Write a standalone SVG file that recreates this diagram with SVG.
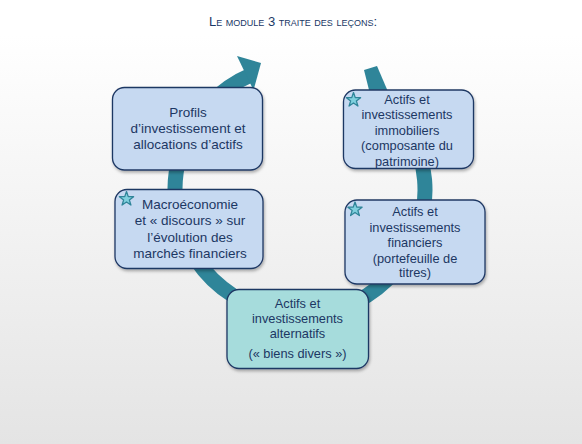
<svg xmlns="http://www.w3.org/2000/svg" width="582" height="444" viewBox="0 0 582 444">
<defs>
<linearGradient id="bg" x1="0" y1="0" x2="0" y2="1">
<stop offset="0.08" stop-color="#ffffff"/>
<stop offset="1" stop-color="#e4e4e4"/>
</linearGradient>
<filter id="sh" x="-10%" y="-10%" width="125%" height="130%">
<feDropShadow dx="1" dy="2" stdDeviation="1.5" flood-color="#000" flood-opacity="0.3"/>
</filter>
<path id="star" d="M0,-7.5 L1.75,-2.4 L7.1,-2.3 L2.85,0.93 L4.4,6.05 L0,3 L-4.4,6.05 L-2.85,0.93 L-7.1,-2.3 L-1.75,-2.4 Z"/>
</defs>
<style>
.box{fill:#c6d9f1;stroke:#1f3864;stroke-width:1.3;filter:url(#sh)}
.alt{fill:#a6dcdc}
.t{font-family:"Liberation Sans",Arial,sans-serif;fill:#1c3763;text-anchor:middle}
.l{font-size:13.5px}
.r{font-size:12.8px}
.st{fill:#7fd0de;stroke:#2f8599;stroke-width:1.3;stroke-linejoin:round}
.title{font-family:"Liberation Sans",Arial,sans-serif;font-size:13px;fill:#1a3866;text-anchor:middle;font-variant:small-caps}
</style>
<rect x="0" y="0" width="582" height="444" fill="url(#bg)"/>
<text class="title" x="293" y="26">Le module 3 traite des leçons:</text>

<g id="connectors">
<path d="M 371.7 87.6 A 125 125 0 1 1 251.2 74.9" fill="none" stroke="#2f8599" stroke-width="15"/>
<polygon points="364,70 377,66 389,94 370,94" fill="#2f8599"/>
<polygon points="237,56 261,63 253.5,90.3" fill="#2f8599"/>
</g>

<g id="profils">
<rect class="box" x="112.5" y="87.5" width="150" height="82.5" rx="12"/>
<text class="t l" x="188" y="117">Profils</text>
<text class="t l" x="188" y="133">d’investissement et</text>
<text class="t l" x="188" y="149">allocations d’actifs</text>
</g>

<g id="macro">
<rect class="box" x="115" y="189.5" width="148" height="79" rx="12"/>
<use href="#star" class="st" transform="translate(126.5,199)"/>
<text class="t l" x="190" y="208.5">Macroéconomie</text>
<text class="t l" x="190" y="225">et « discours » sur</text>
<text class="t l" x="190" y="241.5">l’évolution des</text>
<text class="t l" x="190" y="258">marchés financiers</text>
</g>

<g id="immobiliers">
<rect class="box" x="343.5" y="90" width="130" height="78.5" rx="12"/>
<use href="#star" class="st" transform="translate(353.5,100)"/>
<text class="t r" x="407" y="103.5">Actifs et</text>
<text class="t r" x="407" y="119">investissements</text>
<text class="t r" x="407" y="134.5">immobiliers</text>
<text class="t r" x="407" y="150">(composante du</text>
<text class="t r" x="407" y="165.5">patrimoine)</text>
</g>

<g id="financiers">
<rect class="box" x="345" y="200" width="140" height="84" rx="12"/>
<use href="#star" class="st" transform="translate(355,209.5)"/>
<text class="t r" x="415" y="216">Actifs et</text>
<text class="t r" x="415" y="231.5">investissements</text>
<text class="t r" x="415" y="247">financiers</text>
<text class="t r" x="415" y="262.5">(portefeuille de</text>
<text class="t r" x="415" y="277">titres)</text>
</g>

<g id="alternatifs">
<rect class="box alt" x="227" y="289.5" width="141.5" height="79" rx="12"/>
<text class="t r" x="297.5" y="308">Actifs et</text>
<text class="t r" x="297.5" y="323">investissements</text>
<text class="t r" x="297.5" y="338">alternatifs</text>
<text class="t r" x="297.5" y="358">(« biens divers »)</text>
</g>
</svg>
